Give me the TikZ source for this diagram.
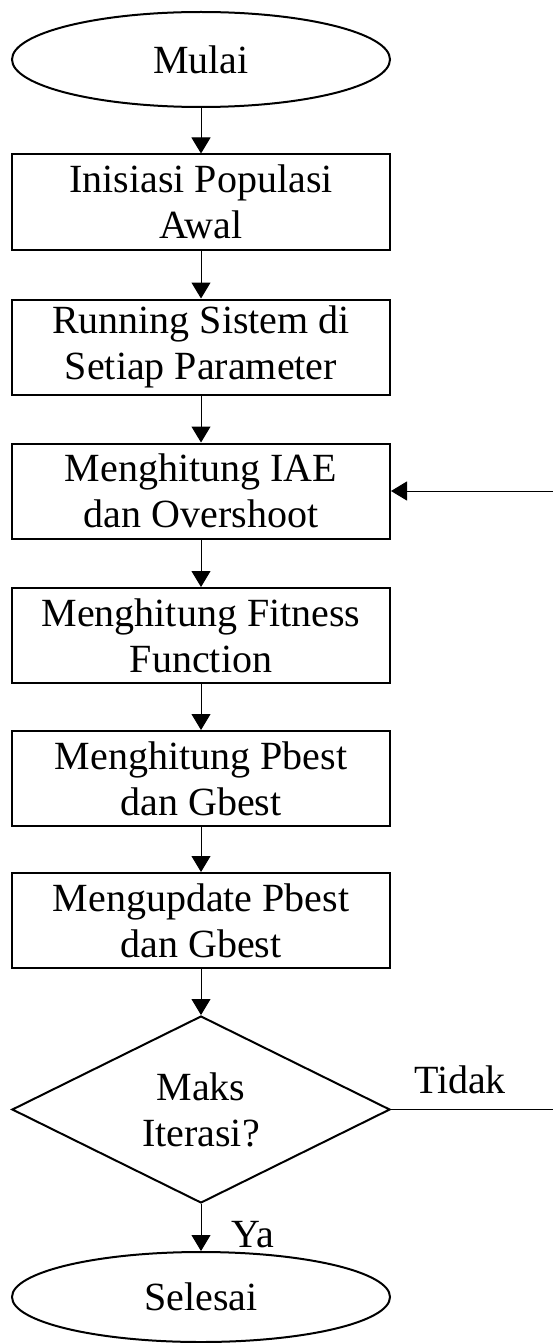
\documentclass[tikz,border=0pt]{standalone}
\usepackage{fontspec}
\setmainfont{Liberation Serif}
\usetikzlibrary{shapes.geometric,arrows.meta}
\begin{document}
\begin{tikzpicture}[x=1pt, y=-1pt,
        every node/.style={font=\fontsize{40}{46}\selectfont, align=center, inner sep=0pt},
        proses/.style={rectangle, draw, line width=2pt, minimum width=378pt, minimum height=95pt},
        terminal/.style={ellipse, draw, line width=2pt, minimum width=378pt, minimum height=95pt},
        keputusan/.style={diamond, aspect=2, draw, line width=2pt, minimum width=378pt, minimum height=187pt},
        panah/.style={-{Triangle[width=19pt,length=16pt]}, line width=1pt}]
            \useasboundingbox (0,0) rectangle (553,1343);

            \node (mulai) at (201,59.5) [terminal] {Mulai};
            \node (s1) at (201,202) [proses] {Inisiasi Populasi\\Awal};
            \node (s2) at (201,347) [proses] {Running Sistem di\\Setiap Parameter};
            \node (s3) at (201,491) [proses] {Menghitung IAE\\dan Overshoot};
            \node (s4) at (201,635.5) [proses] {Menghitung Fitness\\Function};
            \node (s5) at (201,778.5) [proses] {Menghitung Pbest\\dan Gbest};
            \node (s6) at (201,920.5) [proses] {Mengupdate Pbest\\dan Gbest};
            \node (maks) at (201,1109.5) [keputusan] {Maks\\Iterasi?};
            \node (selesai) at (201,1297) [terminal, minimum height=90pt] {Selesai};
            \draw[panah] (mulai) -- (s1);
            \draw[panah] (s1) -- (s2);
            \draw[panah] (s2) -- (s3);
            \draw[panah] (s3) -- (s4);
            \draw[panah] (s4) -- (s5);
            \draw[panah] (s5) -- (s6);
            \draw[panah] (s6) -- (maks);
            \draw[panah] (maks) -- (selesai);

            \node (ya) at (253,1235) {Ya};
            \node (tidak) at (460,1080) {Tidak};
            \coordinate (kanan) at (565,1109.5);
            \draw[panah] (maks.east) -- (kanan) |- (s3.east);
        \end{tikzpicture}
\end{document}
